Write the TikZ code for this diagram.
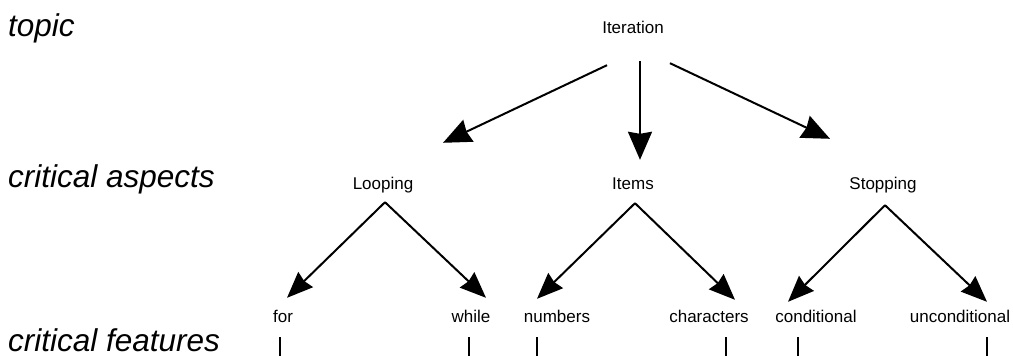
\documentclass[tikz,border=0pt]{standalone}
\usepackage{fontspec}
\setmainfont{Liberation Sans}
\usetikzlibrary{arrows.meta}
\usetikzlibrary{positioning}

\begin{document}
\begin{tikzpicture}[x=1pt,y=1pt,on grid,
        lbl/.style={inner sep=0pt,text height=13pt,text depth=4pt,font=\fontsize{17}{20}\selectfont},
        level/.style={inner sep=0pt,anchor=base west,font=\fontsize{31.5}{38}\selectfont\itshape},
        arr/.style={line width=2pt,-{Stealth[length=26pt,width=21pt,inset=2pt]}},
        bigarr/.style={line width=2pt,-{Stealth[length=28pt,width=24pt,inset=2pt]}},
        stub/.style={line width=2pt}]
    \useasboundingbox (0,0) rectangle (1013,-356);
    \node[level] (topic) at (8,-36) {topic};
    \node[level] (aspects) at (8,-187) {critical aspects};
    \node[level] (features) at (8,-351) {critical features};
    \node[lbl] (iter) at (633,-29.5) {Iteration};
    \node[lbl] [below=155pt of iter] (items) {Items};
    \node[lbl] [left=250pt of items] (looping) {Looping};
    \node[lbl] [right=250pt of items] (stopping) {Stopping};
    \node[lbl] [below left=133pt and 100pt of looping] (for) {for};
    \node[lbl] [below right=133pt and 88pt of looping] (while) {while};
    \node[lbl] [below left=133pt and 76pt of items] (numbers) {numbers};
    \node[lbl] [below right=133pt and 76pt of items] (characters) {characters};
    \node[lbl] [below left=133pt and 67pt of stopping] (conditional) {conditional};
    \node[lbl] [below right=133pt and 77pt of stopping] (unconditional) {unconditional};
    \path[bigarr]
        ([shift={(-26,-27)}]iter.south) edge ([shift={(60,33)}]looping.north)
        ([shift={(7,-23)}]iter.south) edge ([shift={(7,16)}]items.north)
        ([shift={(37,-25)}]iter.south) edge ([shift={(-53,37)}]stopping.north);
    \path[arr]
        ([shift={(2,-9)}]looping.south) edge ([shift={(4,11)}]for.north)
        ([shift={(2,-9)}]looping.south) edge ([shift={(15,11)}]while.north)
        ([shift={(2,-10)}]items.south) edge ([shift={(-20,10)}]numbers.north)
        ([shift={(2,-10)}]items.south) edge ([shift={(26,9)}]characters.north)
        ([shift={(2,-12)}]stopping.south) edge ([shift={(-28,7)}]conditional.north)
        ([shift={(2,-12)}]stopping.south) edge ([shift={(27,7)}]unconditional.north);
    \draw[stub] ([shift={(-3,-11)}]for.south) -- ++(0,-19);
    \draw[stub] ([shift={(-2,-11)}]while.south) -- ++(0,-19);
    \draw[stub] ([shift={(-20,-11)}]numbers.south) -- ++(0,-19);
    \draw[stub] ([shift={(17,-11)}]characters.south) -- ++(0,-19);
    \draw[stub] ([shift={(-18,-11)}]conditional.south) -- ++(0,-19);
    \draw[stub] ([shift={(27,-11)}]unconditional.south) -- ++(0,-19);
\end{tikzpicture}
\end{document}
